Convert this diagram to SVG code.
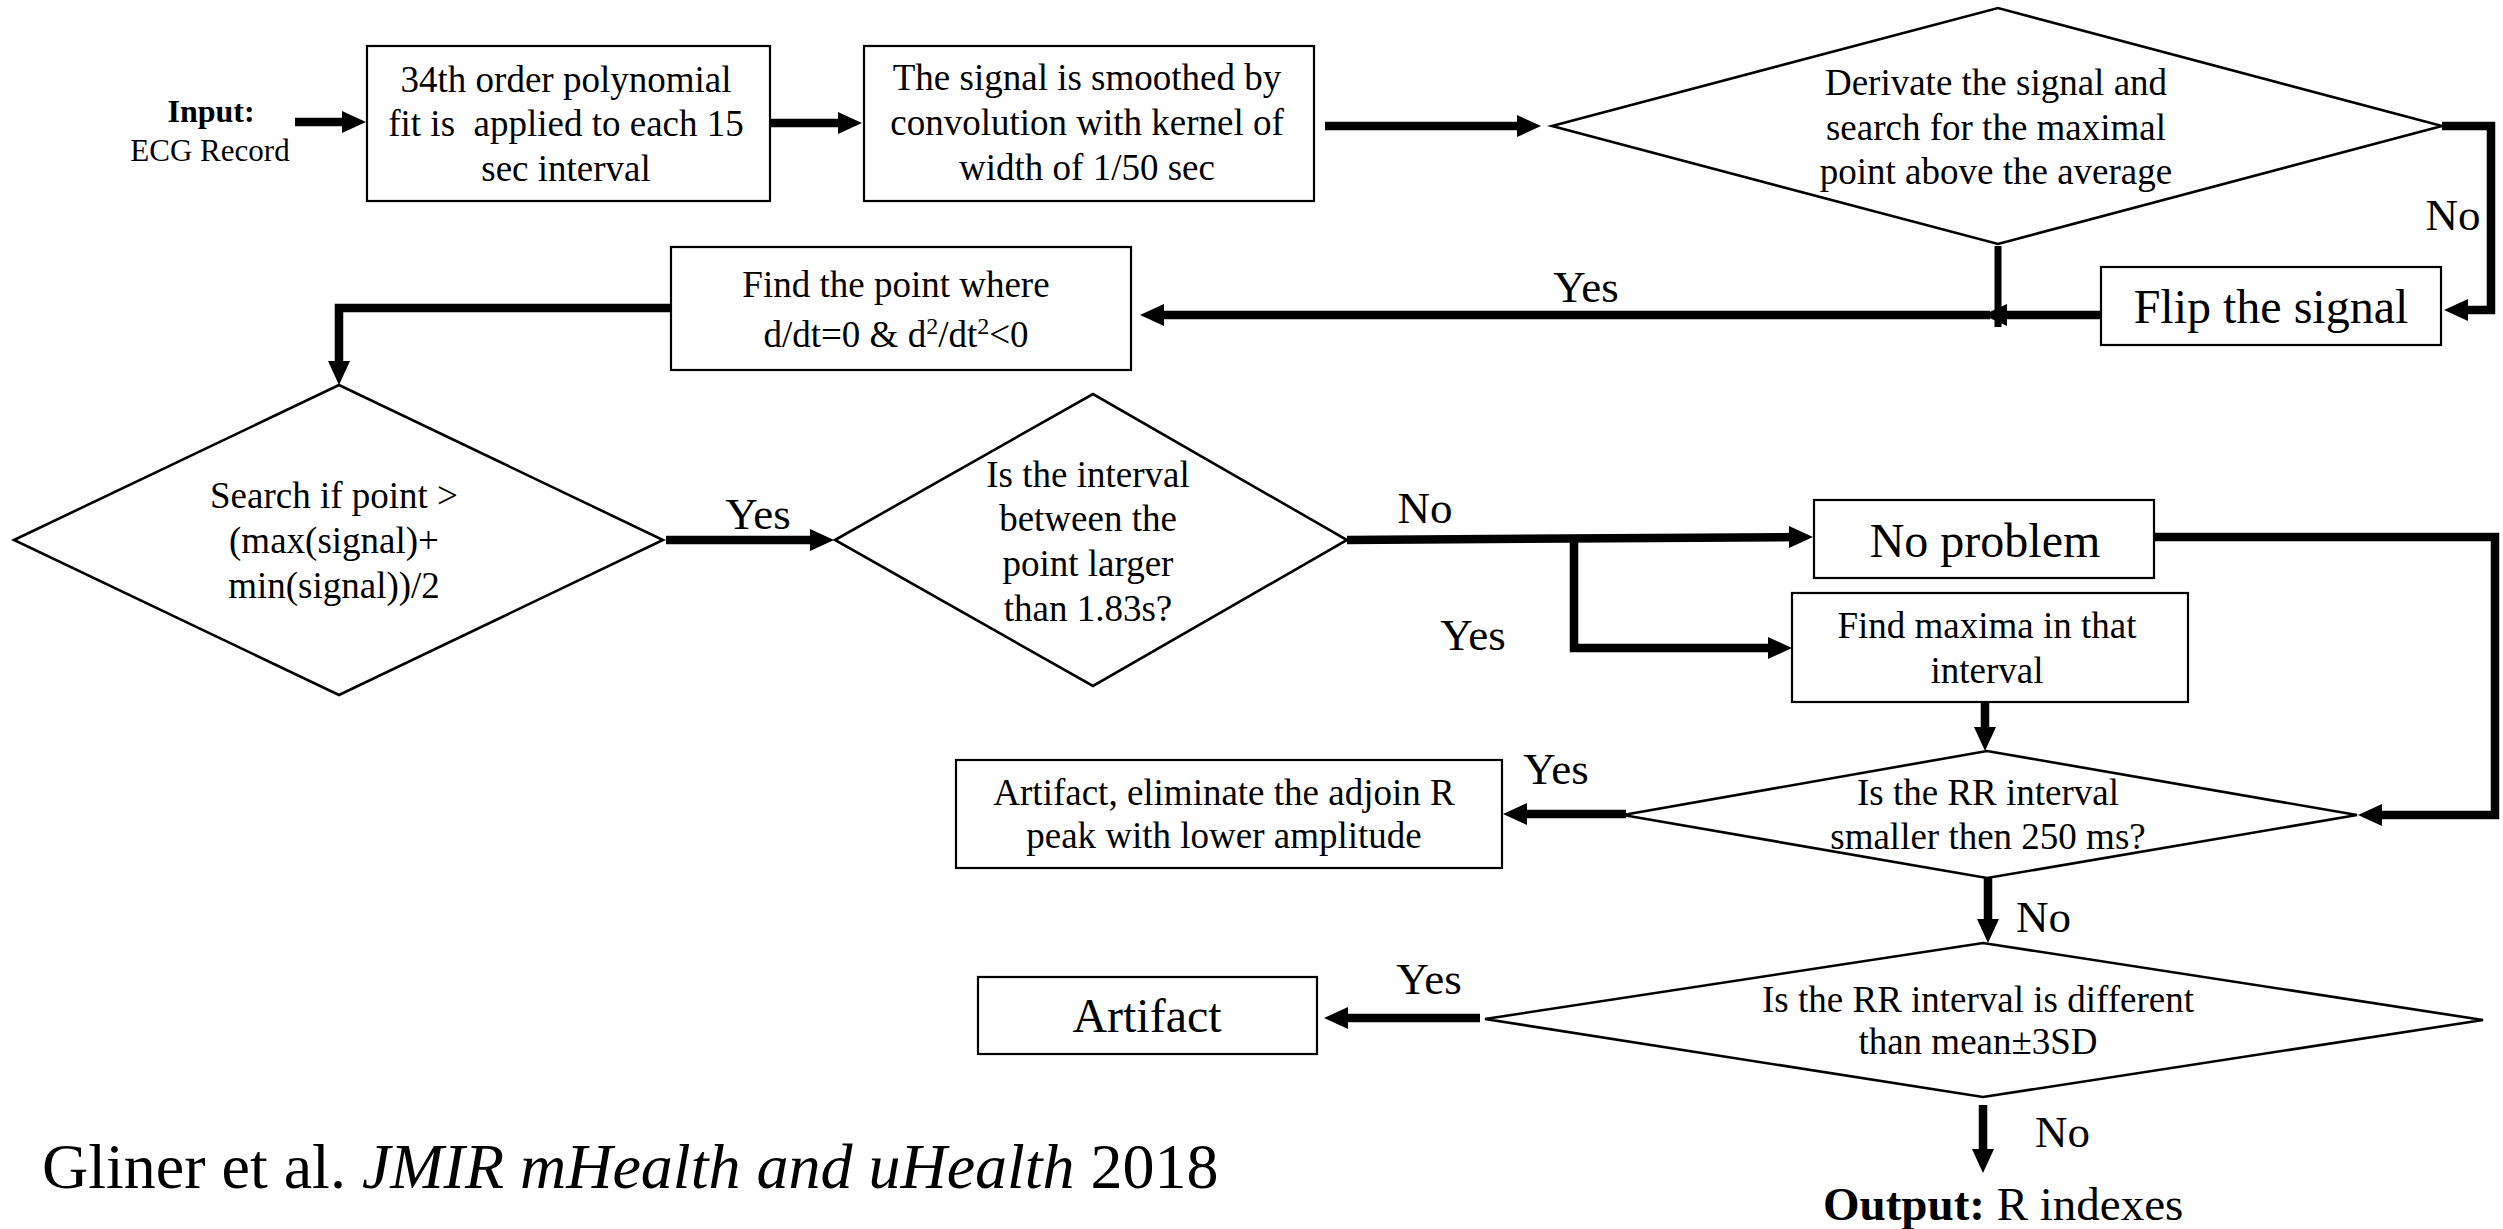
<svg xmlns="http://www.w3.org/2000/svg" width="2503" height="1229" viewBox="0 0 2503 1229">
  <style>
    text { font-family: "Liberation Serif", "Times New Roman", serif; fill: #000; }
    .t37 { font-size: 37px; text-anchor: middle; }
    .t48 { font-size: 48px; text-anchor: middle; }
    .lbl { font-size: 45px; text-anchor: middle; }
    .box { fill: #fff; stroke: #000; stroke-width: 2.2; }
    .dia { fill: #fff; stroke: #000; stroke-width: 2.6; stroke-linejoin: miter; }
    .conn { fill: none; stroke: #000; stroke-width: 8.5; stroke-linejoin: miter; stroke-linecap: butt; }
  </style>
  <defs>
    <marker id="ah" markerUnits="userSpaceOnUse" markerWidth="24" markerHeight="22" refX="12" refY="11" orient="auto" overflow="visible">
      <path d="M0,0 L24,11 L0,22 z" fill="#000"/>
    </marker>
  </defs>
  <rect width="2503" height="1229" fill="#fff"/>

  <!-- connectors -->
  <g id="connectors">
    <path class="conn" d="M295,122 H354" marker-end="url(#ah)"/>
    <path class="conn" d="M770,123 H850" marker-end="url(#ah)"/>
    <path class="conn" d="M1325,126 H1529" marker-end="url(#ah)"/>
    <path class="conn" d="M2442,126 H2491 V310 H2456" marker-end="url(#ah)"/>
    <path class="conn" d="M2101,315 H1995" marker-end="url(#ah)"/>
    <path class="conn" d="M1990,315 H1152" marker-end="url(#ah)"/>
    <path class="conn" d="M1998,246 V327" style="stroke-width:7"/>
    <path class="conn" d="M671,308 H339 V373" marker-end="url(#ah)"/>
    <path class="conn" d="M666,540 H822" marker-end="url(#ah)"/>
    <path class="conn" d="M1347,540 L1801,537" marker-end="url(#ah)"/>
    <path class="conn" d="M1574,540 V648 H1780" marker-end="url(#ah)"/>
    <path class="conn" d="M2154,537 H2495 V815 H2370" marker-end="url(#ah)"/>
    <path class="conn" d="M1985,702 V739" marker-end="url(#ah)"/>
    <path class="conn" d="M1626,814 H1515" marker-end="url(#ah)"/>
    <path class="conn" d="M1988,878 V931" marker-end="url(#ah)"/>
    <path class="conn" d="M1480,1018 H1336" marker-end="url(#ah)"/>
    <path class="conn" d="M1983,1105 V1161" marker-end="url(#ah)"/>

    <text class="lbl" x="2453" y="230">No</text>
    <text class="lbl" x="1586" y="302">Yes</text>
    <text class="lbl" x="758" y="529">Yes</text>
    <text class="lbl" x="1425" y="523">No</text>
    <text class="lbl" x="1473" y="650">Yes</text>
    <text class="lbl" x="1556" y="784">Yes</text>
    <text class="lbl" x="2016" y="932" style="text-anchor:start">No</text>
    <text class="lbl" x="1429" y="994">Yes</text>
    <text class="lbl" x="2035" y="1147" style="text-anchor:start">No</text>
  </g>

  <!-- start -->
  <g id="input">
    <text x="211" y="122" style="font-size:32px;font-weight:bold;text-anchor:middle">Input:</text>
    <text x="210" y="161" style="font-size:31px;text-anchor:middle">ECG Record</text>
  </g>

  <g id="polyfit">
    <rect class="box" x="367" y="46" width="403" height="155"/>
    <text class="t37" x="566" y="92">34th order polynomial</text>
    <text class="t37" x="566" y="136" xml:space="preserve">fit is  applied to each 15</text>
    <text class="t37" x="566" y="181">sec interval</text>
  </g>

  <g id="smooth">
    <rect class="box" x="864" y="46" width="450" height="155"/>
    <text class="t37" x="1087" y="90">The signal is smoothed by</text>
    <text class="t37" x="1087" y="135">convolution with kernel of</text>
    <text class="t37" x="1087" y="180">width of 1/50 sec</text>
  </g>

  <g id="derivate">
    <polygon class="dia" points="1552,126 1998,8 2442,126 1998,244"/>
    <text class="t37" x="1996" y="95">Derivate the signal and</text>
    <text class="t37" x="1996" y="140">search for the maximal</text>
    <text class="t37" x="1996" y="184">point above the average</text>
  </g>

  <g id="flip">
    <rect class="box" x="2101" y="267" width="340" height="78"/>
    <text class="t48" x="2271" y="323">Flip the signal</text>
  </g>

  <g id="find-point">
    <rect class="box" x="671" y="247" width="460" height="123"/>
    <text class="t37" x="896" y="297">Find the point where</text>
    <text class="t37" x="896" y="347">d/dt=0 &amp; d<tspan dy="-13" font-size="24">2</tspan><tspan dy="13">/dt</tspan><tspan dy="-13" font-size="24">2</tspan><tspan dy="13">&lt;0</tspan></text>
  </g>

  <g id="threshold">
    <polygon class="dia" points="14,540 339,385 663,540 339,695"/>
    <text class="t37" x="334" y="508">Search if point &gt;</text>
    <text class="t37" x="334" y="553">(max(signal)+</text>
    <text class="t37" x="334" y="598">min(signal))/2</text>
  </g>

  <g id="interval-check">
    <polygon class="dia" points="835,540 1093,394 1347,540 1093,686"/>
    <text class="t37" x="1088" y="487">Is the interval</text>
    <text class="t37" x="1088" y="531">between the</text>
    <text class="t37" x="1088" y="576">point larger</text>
    <text class="t37" x="1088" y="621">than 1.83s?</text>
  </g>

  <g id="no-problem">
    <rect class="box" x="1814" y="500" width="340" height="78"/>
    <text class="t48" x="1985" y="557">No problem</text>
  </g>

  <g id="find-maxima">
    <rect class="box" x="1792" y="593" width="396" height="109"/>
    <text class="t37" x="1987" y="638">Find maxima in that</text>
    <text class="t37" x="1987" y="683">interval</text>
  </g>

  <g id="rr-short">
    <polygon class="dia" points="1623,815 1987,751 2357,815 1987,878"/>
    <text class="t37" x="1988" y="805">Is the RR interval</text>
    <text class="t37" x="1988" y="849">smaller then 250 ms?</text>
  </g>

  <g id="artifact-adjoin">
    <rect class="box" x="956" y="760" width="546" height="108"/>
    <text class="t37" x="1224" y="805">Artifact, eliminate the adjoin R</text>
    <text class="t37" x="1224" y="848">peak with lower amplitude</text>
  </g>

  <g id="rr-outlier">
    <polygon class="dia" points="1485,1019 1983,943 2483,1020 1983,1097"/>
    <text class="t37" x="1978" y="1012">Is the RR interval is different</text>
    <text class="t37" x="1978" y="1054">than mean±3SD</text>
  </g>

  <g id="artifact">
    <rect class="box" x="978" y="977" width="339" height="77"/>
    <text class="t48" x="1147" y="1032">Artifact</text>
  </g>

  <g id="output">
    <text x="1823" y="1220" style="font-size:47px"><tspan font-weight="bold">Output:</tspan> R indexes</text>
  </g>

  <g id="citation">
    <text x="42" y="1188" style="font-size:64px">Gliner et al. <tspan font-style="italic">JMIR mHealth and uHealth</tspan> 2018</text>
  </g>
</svg>
